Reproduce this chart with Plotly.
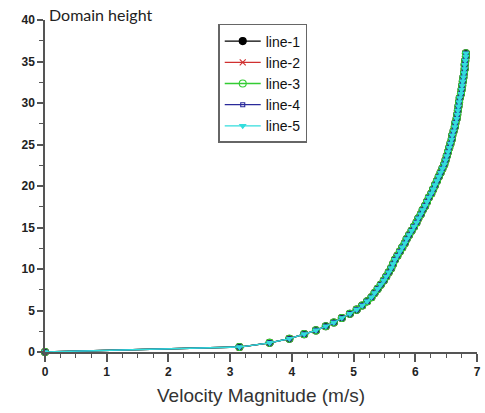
import plotly.graph_objects as go

# Velocity magnitude (m/s) vs domain height
velocity = [0.0, 3.15, 3.64, 3.96, 4.20, 4.39, 4.55, 4.68, 4.81, 4.94,
            5.05, 5.14, 5.22, 5.29, 5.34, 5.39, 5.44, 5.49, 5.53, 5.57,
            5.61, 5.64, 5.67, 5.71, 5.75, 5.79, 5.83, 5.86, 5.90, 5.94,
            5.98, 6.02, 6.05, 6.09, 6.12, 6.16, 6.19, 6.22, 6.26, 6.29,
            6.32, 6.35, 6.38, 6.41, 6.44, 6.47, 6.49, 6.51, 6.53, 6.55,
            6.57, 6.59, 6.60, 6.62, 6.64, 6.65, 6.67, 6.68, 6.69, 6.70,
            6.71, 6.72, 6.74, 6.75, 6.76, 6.77, 6.78, 6.79, 6.80, 6.80,
            6.81, 6.82, 6.82]
height = [0.0, 0.6, 1.1, 1.6, 2.15, 2.6, 3.1, 3.55, 4.1, 4.6,
          5.1, 5.6, 6.1, 6.6, 7.1, 7.6, 8.1, 8.6, 9.1, 9.6,
          10.1, 10.6, 11.1, 11.6, 12.1, 12.6, 13.1, 13.6, 14.1, 14.6,
          15.1, 15.6, 16.1, 16.6, 17.1, 17.6, 18.1, 18.6, 19.1, 19.6,
          20.1, 20.6, 21.1, 21.6, 22.1, 22.6, 23.1, 23.6, 24.1, 24.6,
          25.1, 25.6, 26.1, 26.6, 27.1, 27.6, 28.1, 28.6, 29.1, 29.6,
          30.1, 30.6, 31.1, 31.6, 32.1, 32.6, 33.1, 33.6, 34.1, 34.6,
          35.1, 35.6, 36.0]

series_names = ["line-1", "line-2", "line-3", "line-4", "line-5"]
series_colors = ["#000000", "#d03030", "#33cc33", "#2a2a9a", "#33dddd"]
series_symbols = ["circle", "x-thin-open", "circle-open", "square-open", "triangle-down"]
series_sizes = [7, 6, 7, 4, 5]

fig = go.Figure()
for name, color, sym, size in zip(series_names, series_colors, series_symbols, series_sizes):
    fig.add_trace(go.Scatter(
        x=velocity, y=height, name=name, mode="lines+markers",
        line=dict(color=color, width=1.3),
        marker=dict(symbol=sym, size=size, color=color,
                    line=dict(color=color, width=1.1)),
        cliponaxis=False,
    ))

axis_common = dict(
    showline=True, linecolor="#555555", linewidth=1.5,
    ticks="outside", tickcolor="#555555", tickwidth=1.5,
    showgrid=False, zeroline=False, mirror=False,
    tickfont=dict(family="Liberation Sans, Arial", size=12, color="#222222", weight="bold"),
)

fig.update_xaxes(
    range=[0, 7], dtick=1, ticklen=8,
    minor=dict(dtick=0.25, ticks="outside", ticklen=4, tickcolor="#555555", tickwidth=1),
    title=dict(text="Velocity Magnitude (m/s)", standoff=11,
               font=dict(family="Liberation Sans, Arial", size=19, color="#333333")),
    **axis_common,
)
fig.update_yaxes(
    range=[0, 40], dtick=5, ticklen=6,
    minor=dict(dtick=2.5, ticks="outside", ticklen=4, tickcolor="#555555", tickwidth=1),
    **axis_common,
)

fig.add_annotation(
    text="Domain height", xref="paper", yref="paper", x=0, y=1,
    xanchor="left", yanchor="middle", yshift=6, xshift=2, showarrow=False,
    font=dict(family="Lato, Open Sans", size=16, color="#222222"),
)

fig.update_layout(
    width=485, height=413,
    margin=dict(l=45, r=4, t=20, b=61),
    paper_bgcolor="white", plot_bgcolor="white",
    showlegend=True,
    legend=dict(
        x=0.401, y=0.988, xanchor="left", yanchor="top",
        bgcolor="white", bordercolor="#666666", borderwidth=1.5,
        font=dict(family="Liberation Sans, Arial", size=14, color="#111111"),
        itemwidth=36, tracegroupgap=0,
        entrywidth=140, entrywidthmode="pixels",
    ),
)

fig.write_html("out.html")
